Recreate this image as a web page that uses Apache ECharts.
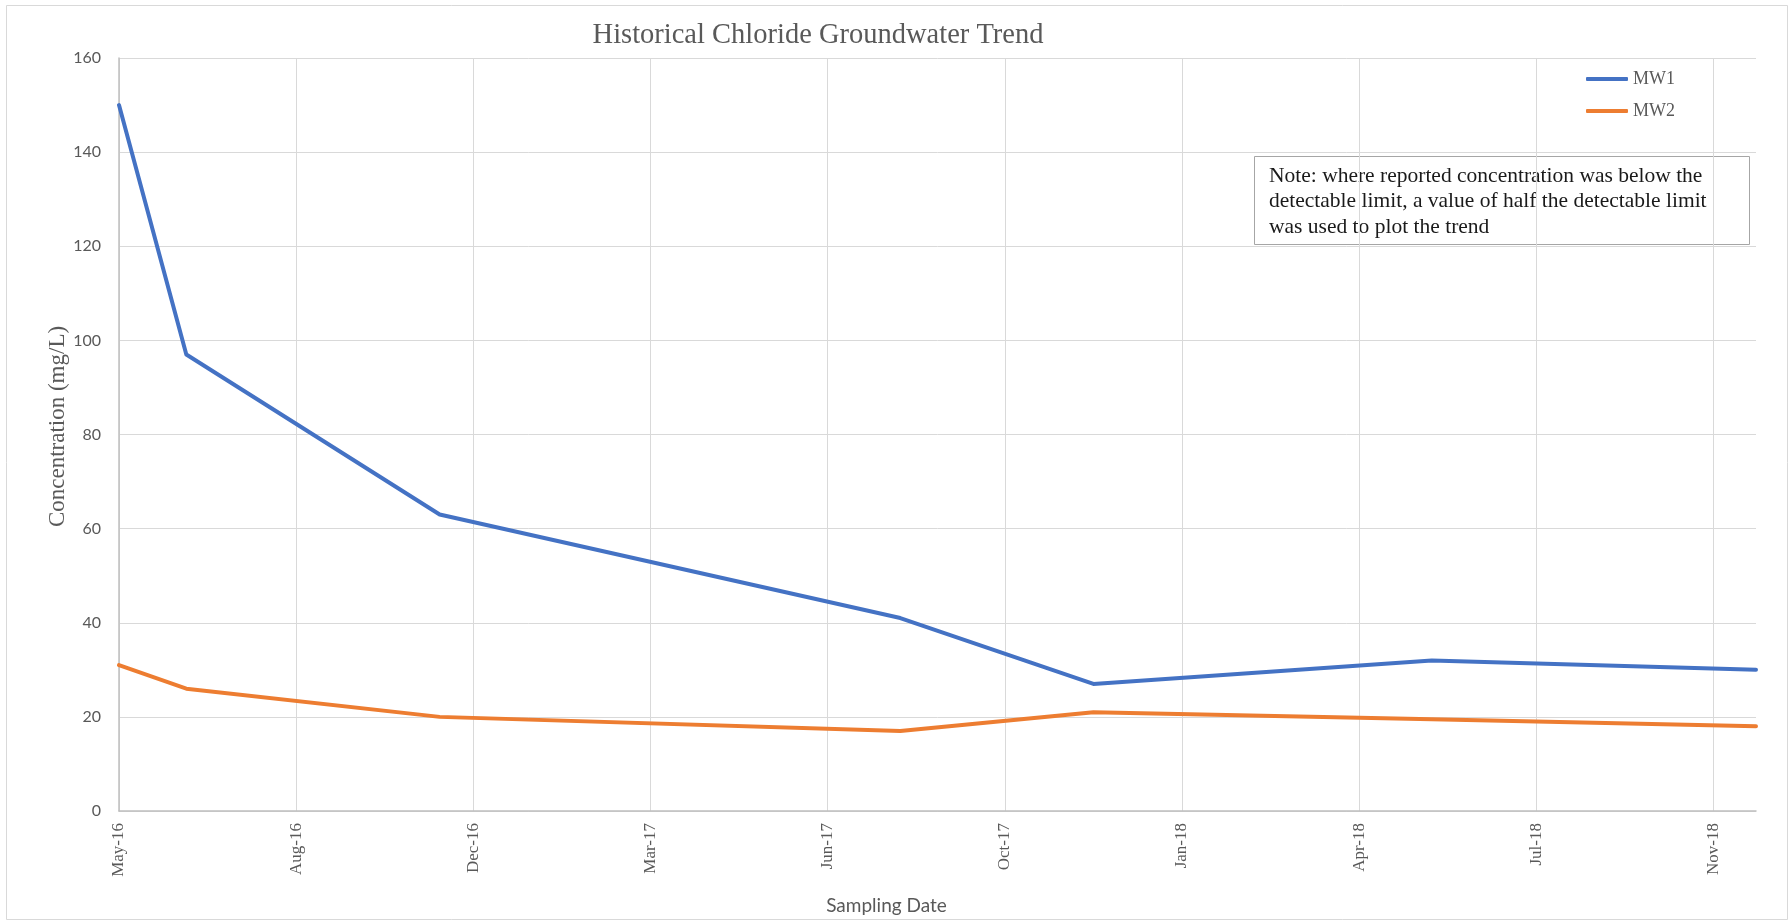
<!DOCTYPE html>
<html>
<head>
<meta charset="utf-8">
<title>Historical Chloride Groundwater Trend</title>
<script src="https://cdn.jsdelivr.net/npm/echarts@6/dist/echarts.min.js"></script>
<style>
  html, body { margin: 0; padding: 0; background: #ffffff; }
  #chart { width: 1789px; height: 924px; }
</style>
</head>
<body>
<div id="chart"></div>
<script>
// Sampling events and chloride concentrations (mg/L)
const sampleDates = ['2016-05-20', '2016-06-27', '2016-11-17', '2017-08-04', '2017-11-21', '2018-05-31', '2018-11-30'];
const mw1 = [150, 97, 63, 41, 27, 32, 30];
const mw2 = [31, 26, 20, 17, 21, 19.5, 18];
const seriesNames = ['MW1', 'MW2'];

// Date axis: starts at the first sampling date, one tick every 100 days
const axisStartDate = '2016-05-20';
const axisEndDate = '2018-11-30';
const tickStepDays = 100;
const xTickLabels = ['May-16', 'Aug-16', 'Dec-16', 'Mar-17', 'Jun-17', 'Oct-17', 'Jan-18', 'Apr-18', 'Jul-18', 'Nov-18'];

const noteLines = [
  'Note: where reported concentration was below the',
  'detectable limit, a value of half the detectable limit',
  'was used to plot the trend'
];

const DAY_MS = 86400000;
function dayOffset(d) {
  return (Date.parse(d) - Date.parse(axisStartDate)) / DAY_MS;
}
function pairs(values) {
  return sampleDates.map((d, i) => [dayOffset(d), values[i]]);
}

const serif = 'Liberation Serif, Times New Roman, serif';
const sans = 'Lato, Open Sans, sans-serif';
const grey = '#595959';

const chart = echarts.init(document.getElementById('chart'), null, { renderer: 'canvas' });

chart.setOption({
  backgroundColor: '#ffffff',
  animation: false,
  title: {
    text: 'Historical Chloride Groundwater Trend',
    left: 818,
    top: 21,
    textAlign: 'center',
    padding: 0,
    textStyle: { fontFamily: serif, fontSize: 28.5, fontWeight: 'normal', color: grey }
  },
  legend: {
    data: seriesNames,
    orient: 'vertical',
    left: 1586,
    top: 70,
    itemWidth: 42,
    itemHeight: 4,
    itemGap: 14,
    icon: 'roundRect',
    padding: 0,
    textStyle: { fontFamily: serif, fontSize: 18, color: grey }
  },
  grid: { left: 119, right: 33, top: 58, bottom: 113, containLabel: false },
  xAxis: {
    type: 'value',
    min: 0,
    max: dayOffset(axisEndDate),
    interval: tickStepDays,
    name: 'Sampling Date',
    nameLocation: 'middle',
    nameGap: 85,
    nameTextStyle: { fontFamily: sans, fontSize: 19, color: grey, padding: [0, 102, 0, 0] },
    axisLine: { show: true, lineStyle: { color: '#bfbfbf', width: 1.5 } },
    axisTick: { show: false },
    axisLabel: {
      rotate: 90,
      margin: 12,
      showMaxLabel: false,
      fontFamily: serif,
      fontSize: 17,
      color: grey,
      formatter: v => xTickLabels[Math.round(v / tickStepDays)] || ''
    },
    splitLine: { show: true, showMaxLine: false, lineStyle: { color: '#d9d9d9', width: 1 } }
  },
  yAxis: {
    type: 'value',
    min: 0,
    max: 160,
    interval: 20,
    name: 'Concentration (mg/L)',
    nameLocation: 'middle',
    nameRotate: 90,
    nameGap: 50,
    nameMoveOverlap: false,
    nameTextStyle: { fontFamily: serif, fontSize: 23, color: grey, padding: [0, 0, 0, 16] },
    axisLine: { show: true, lineStyle: { color: '#bfbfbf', width: 1.5 } },
    axisTick: { show: false },
    axisLabel: { margin: 18, fontFamily: sans, fontSize: 16, color: grey },
    splitLine: { show: true, lineStyle: { color: '#d9d9d9', width: 1 } }
  },
  series: [
    {
      name: seriesNames[0],
      type: 'line',
      data: pairs(mw1),
      showSymbol: false,
      color: '#4472c4',
      lineStyle: { width: 4, color: '#4472c4', cap: 'round', join: 'round' },
      z: 3
    },
    {
      name: seriesNames[1],
      type: 'line',
      data: pairs(mw2),
      showSymbol: false,
      color: '#ed7d31',
      lineStyle: { width: 4, color: '#ed7d31', cap: 'round', join: 'round' },
      z: 2
    }
  ],
  graphic: [
    {
      type: 'rect',
      silent: true,
      z: -10,
      shape: { x: 6.5, y: 5.5, width: 1781, height: 914 },
      style: { fill: null, stroke: '#d9d9d9', lineWidth: 1 }
    },
    {
      type: 'group',
      z: 100,
      children: [
        {
          type: 'rect',
          shape: { x: 1254.5, y: 156.5, width: 495, height: 88 },
          style: { fill: '#ffffff', stroke: '#a6a6a6', lineWidth: 1 }
        },
        {
          type: 'text',
          x: 1269,
          y: 163.5,
          style: {
            text: noteLines.join('\n'),
            font: '21.5px ' + serif,
            fill: '#1a1a1a',
            lineHeight: 25.5,
            textAlign: 'left',
            textVerticalAlign: 'top'
          }
        }
      ]
    }
  ]
});
</script>
</body>
</html>
